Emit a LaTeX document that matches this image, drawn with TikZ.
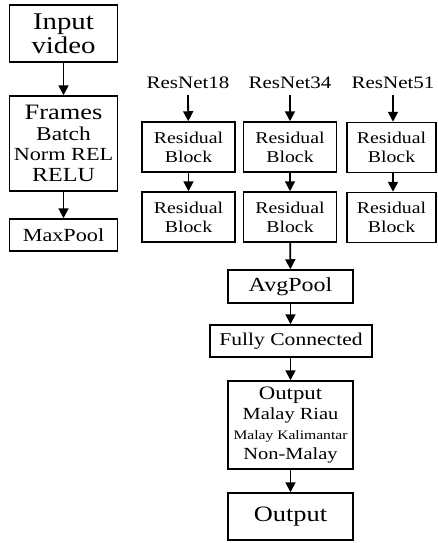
\documentclass[tikz,border=0pt]{standalone}
\usepackage{fontspec}
\setmainfont[FakeStretch=1.2]{Liberation Serif}
\usetikzlibrary{arrows.meta}
\begin{document}
\begin{tikzpicture}[x=1pt,y=-1pt,
  box/.style={draw, line width=1.5pt, inner sep=0pt, align=center},
  lbl/.style={inner sep=0pt, font=\fontsize{17.5}{18}\selectfont},
  arr/.style={-{Triangle[length=10pt,width=10pt]}, line width=1.8pt},
  rb/.style={box, minimum width=93pt, minimum height=50pt, font=\fontsize{16.5}{19}\selectfont}]
\useasboundingbox (0,0) rectangle (437,543);
% left column
\node[box, minimum width=108pt, minimum height=57pt, font=\fontsize{24}{24}\selectfont] (inp) at (63.5,33.5) {Input\\video};
\node[box, minimum width=108pt, minimum height=95pt, font=\fontsize{18.5}{20.5}\selectfont] (frm) at (63.5,143.5) {{\fontsize{22}{21}\selectfont Frames}\\{\fontsize{19.5}{20.5}\selectfont Batch}\\Norm REL\\{\fontsize{20}{20.5}\selectfont RELU}};
\node[box, minimum width=108pt, minimum height=32pt, font=\fontsize{18.5}{20}\selectfont] (mp) at (63.5,235) {MaxPool};
\draw[arr] (inp) -- (frm);
\draw[arr] (frm) -- (mp);
% ResNet columns
\node[lbl, anchor=south] (r18) at (188,89) {ResNet18};
\node[lbl, anchor=south] (r34) at (290,89) {ResNet34};
\node[lbl, anchor=south] (r51) at (393,89) {ResNet51};
\node[rb] (a1) at (188.5,147) {Residual\\Block};
\node[rb] (b1) at (290,147) {Residual\\Block};
\node[rb, minimum width=89pt] (c1) at (391.5,147.5) {Residual\\Block};
\node[rb] (a2) at (188.5,217) {Residual\\Block};
\node[rb] (b2) at (290,217) {Residual\\Block};
\node[rb, minimum width=89pt] (c2) at (391.5,217.5) {Residual\\Block};
\draw[arr] ([yshift=-6pt]r18.south) -- (a1);
\draw[arr] ([yshift=-6pt]r34.south) -- (b1);
\draw[arr] ([yshift=-6pt]r51.south) -- (c1.north -| r51.south);
\draw[arr] (a1) -- (a2);
\draw[arr] (b1) -- (b2);
\draw[arr] (c1.south -| r51.south) -- (c2.north -| r51.south);
% lower chain
\node[box, minimum width=125pt, minimum height=33pt, font=\fontsize{20}{20}\selectfont] (avg) at (290.5,286.5) {AvgPool};
\node[box, minimum width=162pt, minimum height=32pt, font=\fontsize{18}{20}\selectfont] (fc) at (291,341) {Fully Connected};
\node[box, minimum width=125pt, minimum height=88pt, font=\fontsize{17}{20}\selectfont] (out) at (290.5,425) {{\fontsize{19}{20}\selectfont Output}\\Malay Riau\\{\fontsize{13}{19}\selectfont Malay Kalimantar}\\Non-Malay};
\node[box, minimum width=125pt, minimum height=47pt, font=\fontsize{22}{24}\selectfont] (fin) at (290.5,516.5) {Output};
\draw[arr] (b2) -- (avg);
\draw[arr] (avg) -- (fc.north -| avg.south);
\draw[arr] (fc.south -| avg.north) -- (out);
\draw[arr] (out) -- (fin);
\end{tikzpicture}
\end{document}
